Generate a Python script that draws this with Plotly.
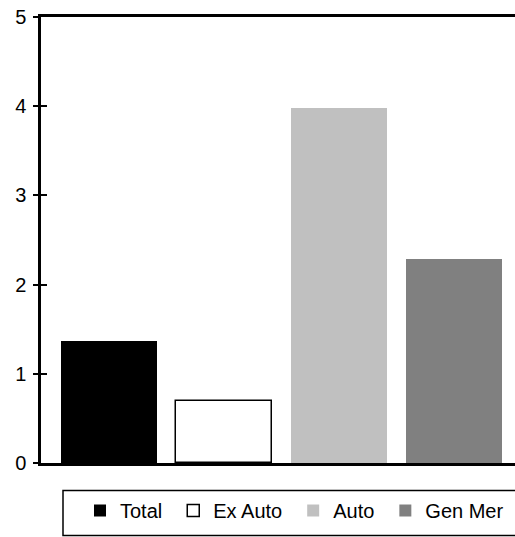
import plotly.graph_objects as go

categories = ["Total", "Ex Auto", "Auto", "Gen Mer"]
values = [1.37, 0.70, 3.98, 2.29]
fill_colors = ["#000000", "#FFFFFF", "#C0C0C0", "#808080"]
line_colors = ["#000000", "#000000", "#C0C0C0", "#808080"]
line_widths = [0, 1.5, 0, 0]
y_ticks = [0, 1, 2, 3, 4, 5]

W, H = 515, 537
L, R, T, B = 41, 0, 17, 74
pw = W - L - R
ph = H - T - B

FONT = "Liberation Sans, Arial, sans-serif"

fig = go.Figure()
for i, (cat, val) in enumerate(zip(categories, values)):
    fig.add_trace(go.Bar(
        x=[i], y=[val], name=cat, width=0.835,
        marker=dict(color=fill_colors[i],
                    line=dict(color=line_colors[i], width=line_widths[i])),
        showlegend=True,
    ))

def px_x(p):
    return (p - L) / pw

def px_y(p):
    return (H - B - p) / ph

fig.add_shape(type="rect", xref="paper", yref="paper",
              x0=px_x(63), x1=px_x(520), y0=px_y(535.5), y1=px_y(490.5),
              line=dict(color="black", width=1.5), fillcolor="rgba(0,0,0,0)")

fig.update_layout(
    width=W, height=H,
    margin=dict(l=L, r=R, t=T, b=B, pad=0),
    paper_bgcolor="white", plot_bgcolor="white",
    font=dict(family=FONT, size=20, color="black"),
    bargap=0, barmode="overlay",
    xaxis=dict(range=[-0.591, 3.53], showticklabels=False, ticks="",
               showgrid=False, zeroline=False, showline=True,
               linecolor="black", linewidth=2.5, mirror=True, fixedrange=True),
    yaxis=dict(range=[0, 5], tickvals=y_ticks, ticks="outside", ticklen=5,
               tickwidth=1.5, tickcolor="black", showgrid=False, zeroline=False,
               showline=True, linecolor="black", linewidth=2.5,
               ticklabelstandoff=3, tickfont=dict(size=20)),
    yaxis2=dict(range=[0, 5], tickvals=y_ticks, overlaying="y", side="left",
                ticks="inside", ticklen=6, tickwidth=1.5, tickcolor="black",
                showticklabels=False, showgrid=False, zeroline=False,
                showline=False),
    legend=dict(orientation="h", x=px_x(74), xanchor="left",
                y=px_y(491), yanchor="top", borderwidth=0,
                bgcolor="rgba(0,0,0,0)", indentation=6,
                font=dict(size=20), traceorder="normal"),
)
fig.add_trace(go.Scatter(x=[0], y=[0], yaxis="y2", mode="markers",
                         marker=dict(opacity=0), showlegend=False,
                         hoverinfo="skip"))

fig.write_html("out.html", config={"displayModeBar": False},
               post_script="document.body.style.margin='0';document.body.style.overflow='hidden';")
